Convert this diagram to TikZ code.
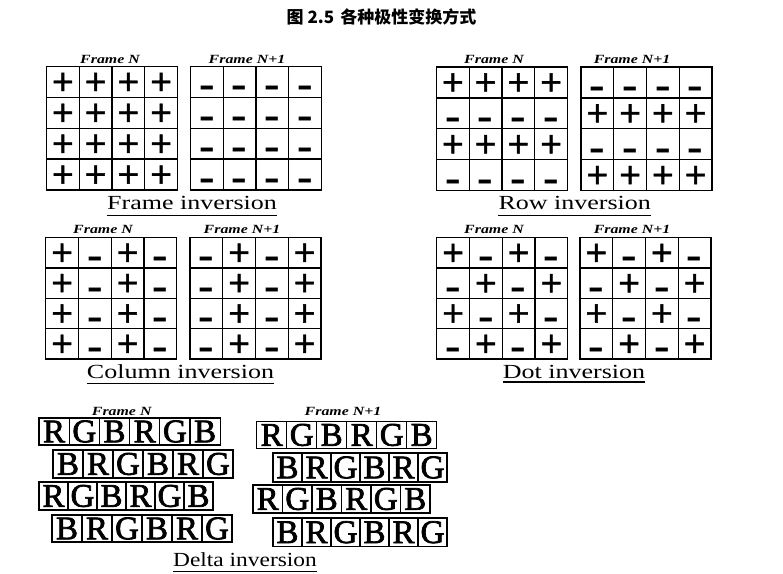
\documentclass[tikz,border=0pt]{standalone}
\usepackage{fontspec}
\setmainfont{Liberation Serif}
\newfontfamily\cjk{Noto Sans CJK SC}
\newfontfamily\symfont[FakeBold=1.5]{DejaVu Sans}
\newfontfamily\symfontb{DejaVu Sans Bold}
\newfontfamily\dletter[FakeBold=2.2]{Liberation Serif}
\usetikzlibrary{calc}
\tikzset{
  gridline/.style={line width=1.3pt, black, line cap=rect},
  sp/.style={inner sep=0pt, anchor=center, font=\symfont\fontsize{29}{29}\selectfont, node contents={+}},
  sm/.style={inner sep=0pt, anchor=base, font=\symfontb\fontsize{31}{31}\selectfont, yshift=-15pt, node contents={–}},
  lbl/.style={inner sep=0pt, anchor=base, font=\fontsize{20}{20}\selectfont},
  frlbl/.style={inner sep=0pt, anchor=base, font=\bfseries\itshape\fontsize{12.5}{12.5}\selectfont},
  uline/.style={line width=1.3pt, black},
  lbox/.style={draw, line width=1.1pt, inner sep=0pt, anchor=center, font=\dletter\fontsize{33}{33}\selectfont},
  titlestyle/.style={inner sep=0pt, font=\cjk\bfseries\fontsize{17}{17}\selectfont}
}
% name, xleft, ytop, height, signs
\newcommand\polgrid[5]{%
  \draw[gridline] (#2,#3) rectangle ++(131,#4);
  \foreach \k in {1,2,3}{
    \draw[gridline] ({#2+\k*32.75},#3) -- ++(0,#4);
    \draw[gridline] (#2,{#3+\k*#4/4}) -- ++(131,0);
  }
  \foreach \s [count=\i from 0] in {#5}{
    \pgfmathtruncatemacro\rr{\i/4}
    \pgfmathtruncatemacro\cc{\i-4*\rr}
    \node (#1-\rr-\cc) at ({#2+(\cc+0.5)*32.75},{#3+(\rr+0.5)*#4/4}) [s\s];
  }
}
% name, x0, y0, w, h, letters
\newcommand\deltarow[6]{%
  \foreach \L [count=\i from 0] in {#6}{
    \node[lbox, minimum width=#4pt, minimum height=#5pt] (#1-\i) at ({#2+(\i+0.5)*#4},{#3+#5/2}) {\L};
  }
}
\begin{document}
\begin{tikzpicture}[x=1pt,y=-1pt]
\fill[white] (0,0) rectangle (783,573);
\useasboundingbox (0,0) rectangle (783,573);

\node[titlestyle] (title) at (381.5,17) {图 2.5\hspace{6pt}各种极性变换方式};

% Frame inversion
\node[frlbl] (fiN) at (110,63.3) {\scalebox{1.27}[1]{Frame N}};
\node[frlbl] (fiN1) at (247,63.3) {\scalebox{1.27}[1]{Frame N+1}};
\polgrid{fa}{46.5}{66.5}{123.5}{p,p,p,p,p,p,p,p,p,p,p,p,p,p,p,p}
\polgrid{fb}{190.5}{66.5}{123.5}{m,m,m,m,m,m,m,m,m,m,m,m,m,m,m,m}
\node[lbl] (fil) at (192,209.3) {\scalebox{1.3}[1]{Frame inversion}};
\draw[uline] ([yshift=-6pt]fil.base west) -- ([yshift=-6pt]fil.base east);

% Row inversion
\node[frlbl] (riN) at (494,63.3) {\scalebox{1.27}[1]{Frame N}};
\node[frlbl] (riN1) at (632,63.3) {\scalebox{1.27}[1]{Frame N+1}};
\polgrid{ra}{436.5}{67}{123.5}{p,p,p,p,m,m,m,m,p,p,p,p,m,m,m,m}
\polgrid{rb}{581}{67}{123.5}{m,m,m,m,p,p,p,p,m,m,m,m,p,p,p,p}
\node[lbl] (ril) at (574.7,209.3) {\scalebox{1.3}[1]{Row inversion}};
\draw[uline] ([yshift=-6pt]ril.base west) -- ([yshift=-6pt]ril.base east);

% Column inversion
\node[frlbl] (ciN) at (103,233.3) {\scalebox{1.27}[1]{Frame N}};
\node[frlbl] (ciN1) at (242,233.3) {\scalebox{1.27}[1]{Frame N+1}};
\polgrid{ca}{45.7}{237.5}{121.5}{p,m,p,m,p,m,p,m,p,m,p,m,p,m,p,m}
\polgrid{cb}{190}{237.5}{121.5}{m,p,m,p,m,p,m,p,m,p,m,p,m,p,m,p}
\node[lbl] (cil) at (180.5,378.3) {\scalebox{1.3}[1]{Column inversion}};
\draw[uline] ([yshift=-5pt]cil.base west) -- ([yshift=-5pt]cil.base east);

% Dot inversion
\node[frlbl] (diN) at (494,233.3) {\scalebox{1.27}[1]{Frame N}};
\node[frlbl] (diN1) at (632,233.3) {\scalebox{1.27}[1]{Frame N+1}};
\polgrid{da}{436.7}{237.7}{121.3}{p,m,p,m,m,p,m,p,p,m,p,m,m,p,m,p}
\polgrid{db}{580}{237.7}{121.3}{p,m,p,m,m,p,m,p,p,m,p,m,m,p,m,p}
\node[lbl] (dil) at (574,378) {\scalebox{1.3}[1]{Dot inversion}};
\draw[uline] ([yshift=-4pt]dil.base west) -- ([yshift=-4pt]dil.base east);

% Delta inversion
\node[frlbl] (deN) at (121.7,415) {\scalebox{1.27}[1]{Frame N}};
\node[frlbl] (deN1) at (343,415) {\scalebox{1.27}[1]{Frame N+1}};
\deltarow{na}{39}{418}{30.2}{27}{R,G,B,R,G,B}
\deltarow{nb}{53}{450}{30}{28}{B,R,G,B,R,G}
\deltarow{nc}{39}{482}{29}{28}{R,G,B,R,G,B}
\deltarow{nd}{52}{515}{30}{27}{B,R,G,B,R,G}
\deltarow{ma}{256.7}{421.7}{30}{26.5}{R,G,B,R,G,B}
\deltarow{mb}{273}{453}{29}{29}{B,R,G,B,R,G}
\deltarow{mc}{253}{485}{29.5}{28}{R,G,B,R,G,B}
\deltarow{md}{273}{518}{29}{28.5}{B,R,G,B,R,G}
\node[lbl] (del) at (245,566.7) {\scalebox{1.17}[1]{Delta inversion}};
\draw[uline] ([yshift=-5pt]del.base west) -- ([yshift=-5pt]del.base east);
\end{tikzpicture}
\end{document}
